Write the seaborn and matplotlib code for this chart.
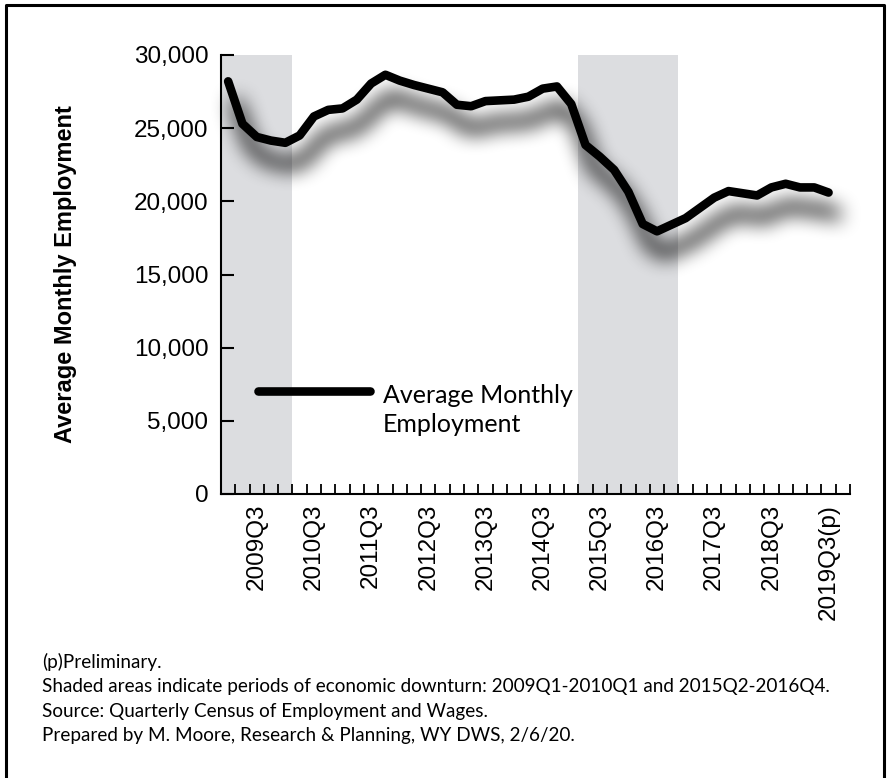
import numpy as np
import pandas as pd
import matplotlib
matplotlib.use("Agg")
import matplotlib.pyplot as plt
import matplotlib.transforms as mtransforms
from matplotlib.lines import Line2D
from matplotlib.ticker import FuncFormatter
import seaborn as sns

# Quarterly series, 2009Q1 .. 2019Q3 (last quarter preliminary)
quarters = [f"{y}Q{q}" for y in range(2009, 2020) for q in range(1, 5)][:43]
employment = [
    28200, 25300, 24400, 24150,   # 2009
    24000, 24500, 25800, 26250,   # 2010
    26350, 26950, 28050, 28650,   # 2011
    28250, 27950, 27700, 27450,   # 2012
    26600, 26500, 26850, 26900,   # 2013
    26950, 27150, 27700, 27850,   # 2014
    26650, 23850, 23050, 22150,   # 2015
    20650, 18450, 17950, 18400,   # 2016
    18850, 19550, 20250, 20700,   # 2017
    20550, 20400, 20950, 21200,   # 2018
    20950, 20950, 20600,          # 2019
]
tick_quarters = ["2009Q3", "2010Q3", "2011Q3", "2012Q3", "2013Q3", "2014Q3",
                 "2015Q3", "2016Q3", "2017Q3", "2018Q3", "2019Q3"]
tick_labels = ["2009Q3", "2010Q3", "2011Q3", "2012Q3", "2013Q3", "2014Q3",
               "2015Q3", "2016Q3", "2017Q3", "2018Q3", "2019Q3(p)"]
downturns = [("2009Q1", "2010Q1"), ("2015Q2", "2016Q4")]
n_slots = 44  # category slots on the axis (one spare after the last quarter)
y_ticks = [0, 5000, 10000, 15000, 20000, 25000, 30000]

series_name = "Average Monthly Employment"
notes = [
    "(p)Preliminary.",
    "Shaded areas indicate periods of economic downturn: 2009Q1-2010Q1 and 2015Q2-2016Q4.",
    "Source: Quarterly Census of Employment and Wages.",
    "Prepared by M. Moore, Research & Planning, WY DWS, 2/6/20.",
]

sns.set_style("white")
plt.rcParams["font.family"] = ["Liberation Sans", "DejaVu Sans"]
NOTE_FONT = ["Lato", "DejaVu Sans"]

W, H, DPI = 890, 778, 100
fig = plt.figure(figsize=(W / DPI, H / DPI), dpi=DPI, facecolor="white")
ax = fig.add_axes([221 / W, 1 - 494 / H, 629 / W, 439 / H])
ax.set_facecolor("white")
ax.set_axisbelow(False)

df = pd.DataFrame({"pos": np.arange(len(employment)), "quarter": quarters,
                   "employment": employment})

XLIM = (-0.5, n_slots - 0.5)
YLIM = (0, 30000)
ax.set_xlim(*XLIM)
ax.set_ylim(*YLIM)

# recession shading
for start, end in downturns:
    ax.axvspan(quarters.index(start) - 0.5, quarters.index(end) + 0.5,
               color="#dcdde0", lw=0, zorder=1)

LINE_W = 6.2


def box_blur(a, r, axis):
    pad = [(r, r) if i == axis else (0, 0) for i in range(a.ndim)]
    c = np.cumsum(np.pad(a, pad), axis=axis)
    c = np.insert(c, 0, 0, axis=axis)
    n = a.shape[axis]
    hi = np.take(c, np.arange(2 * r + 1, 2 * r + 1 + n), axis=axis)
    lo = np.take(c, np.arange(0, n), axis=axis)
    return (hi - lo) / (2 * r + 1)


def soft_shadow(ax, x, y, lw, dx, dy, radius, strength):
    """Blurred, offset copy of a line drawn underneath it."""
    tmp = plt.figure(figsize=ax.figure.get_size_inches(), dpi=ax.figure.dpi,
                     facecolor="white")
    tax = tmp.add_axes(ax.get_position().bounds)
    tax.set_xlim(ax.get_xlim())
    tax.set_ylim(ax.get_ylim())
    tax.axis("off")
    tr = mtransforms.offset_copy(tax.transData, fig=tmp, x=dx, y=-dy, units="dots")
    tax.plot(x, y, color="black", lw=lw, transform=tr, clip_on=False,
             solid_capstyle="round", solid_joinstyle="round")
    tmp.canvas.draw()
    buf = np.asarray(tmp.canvas.buffer_rgba())[..., 0].astype(float)
    plt.close(tmp)
    mask = 1.0 - buf / 255.0
    for _ in range(3):
        mask = box_blur(mask, radius, 0)
        mask = box_blur(mask, radius, 1)
    h, w = mask.shape
    rgba = np.zeros((h, w, 4))
    rgba[..., 3] = np.clip(mask * strength, 0, 1)
    (x0, y0), (x1, y1) = ax.transData.inverted().transform([(0, 0), (w, h)])
    ax.imshow(rgba, extent=(x0, x1, y0, y1), origin="upper", aspect="auto",
              interpolation="bilinear", zorder=2, clip_on=False)
    ax.set_xlim(*XLIM)
    ax.set_ylim(*YLIM)


soft_shadow(ax, df["pos"], df["employment"], LINE_W, dx=8, dy=22,
            radius=9, strength=1.25)

sns.lineplot(data=df, x="pos", y="employment", ax=ax, color="black",
             lw=LINE_W, solid_capstyle="round", solid_joinstyle="round",
             zorder=4, legend=False)
ax.set_xlim(*XLIM)
ax.set_ylim(*YLIM)

# axes styling
for side in ("top", "right"):
    ax.spines[side].set_visible(False)
for side in ("left", "bottom"):
    ax.spines[side].set_color("black")
    ax.spines[side].set_linewidth(1.5)
    ax.spines[side].set_zorder(5)

ax.set_yticks(y_ticks)
ax.yaxis.set_major_formatter(FuncFormatter(lambda v, p: f"{v:,.0f}"))
ax.tick_params(axis="y", left=True, direction="in", length=9.5, width=1.5,
               color="black", pad=9, labelsize=17.5, labelcolor="black")

ax.set_xticks(np.arange(-0.5, n_slots, 1.0))
ax.tick_params(axis="x", which="major", bottom=True, direction="in", length=7,
               width=1.3, color="black", labelbottom=False)
ax.set_xticks([quarters.index(q) for q in tick_quarters], minor=True)
ax.set_xticklabels(tick_labels, minor=True, rotation=90)
ax.tick_params(axis="x", which="minor", bottom=True, length=0, pad=7,
               labelsize=17.5, labelcolor="black")
ax.set_xlabel("")

ax.set_ylabel(series_name, fontsize=17, fontweight="bold", color="black")
ax.yaxis.label.set_va("center")
ax.yaxis.set_label_coords((66 - 221) / 629, 0.5)

# legend entry
ax.add_line(Line2D([(258 - 221) / 629, (370 - 221) / 629],
                   [(494 - 391) / 439] * 2, transform=ax.transAxes,
                   color="black", lw=LINE_W, solid_capstyle="round",
                   clip_on=False, zorder=6))
ax.text((383 - 221) / 629, (494 - 384) / 439, "Average Monthly\nEmployment",
        transform=ax.transAxes, ha="left", va="top", fontsize=18,
        family=NOTE_FONT, color="black", linespacing=1.3, zorder=6)

# footnotes
for i, line in enumerate(notes):
    fig.text(42 / W, 1 - (662 + 24.6 * i) / H, line, ha="left", va="center",
             fontsize=13.6, family=NOTE_FONT, color="black")

# outer frame (open at the bottom edge)
fig.add_artist(Line2D([6 / W, 6 / W, 884 / W, 884 / W], [0, 1 - 5 / H, 1 - 5 / H, 0],
                      transform=fig.transFigure, color="black", lw=2.2))

fig.savefig("out.png", dpi=DPI, facecolor="white")
